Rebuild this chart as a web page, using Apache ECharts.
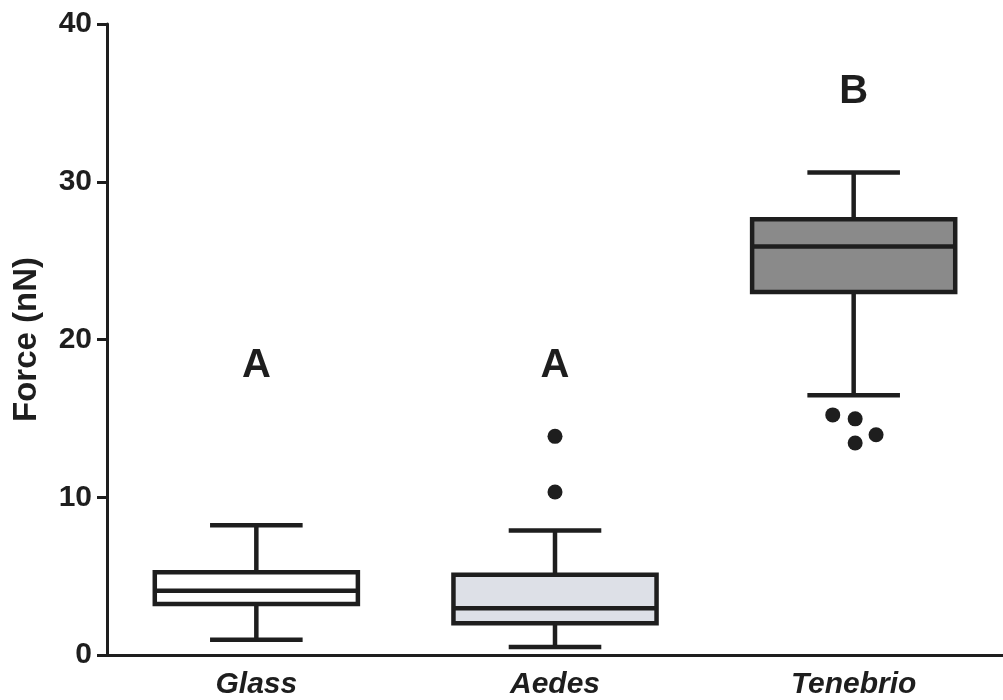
<!DOCTYPE html>
<html>
<head>
<meta charset="utf-8">
<script src="https://cdn.jsdelivr.net/npm/echarts@6/dist/echarts.min.js"></script>
<style>html,body{margin:0;padding:0;background:#fff}#c{width:1003px;height:700px}</style>
</head>
<body>
<div id="c"></div>
<script>
// ---- data ----
var categories = ['Glass', 'Aedes', 'Tenebrio'];
// [min, Q1, median, Q3, max]
var glassBox = [0.97, 3.24, 4.08, 5.25, 8.22];
var aedesBox = [0.5, 2.02, 2.97, 5.08, 7.89];
var tenebrioBox = [16.47, 23.01, 25.89, 27.63, 30.58];
var boxFills = ['#ffffff', '#dde0e7', '#8a8a8a'];
// outliers: [category index + horizontal jitter, value]
var outliers = [[1, 13.86], [1, 10.33], [1.93, 15.22], [2.005, 14.97], [2.075, 13.96], [2.005, 13.44]];
var groupLetters = ['A', 'A', 'B'];
var letterHeights = [18.3, 18.3, 35.7];
var yTicks = [0, 10, 20, 30, 40];

var boxes = [glassBox, aedesBox, tenebrioBox];
var boxData = boxes.map(function (b, i) { return [i].concat(b); });
var letterData = groupLetters.map(function (l, i) { return [i, letterHeights[i], l]; });

var INK = '#1e1e1e';
var FONT = '"Liberation Sans", Arial, sans-serif';

var chart = echarts.init(document.getElementById('c'), null, { renderer: 'canvas' });
chart.setOption({
  backgroundColor: '#ffffff',
  animation: false,
  grid: { left: 107, top: 24, width: 903, bottom: 42, containLabel: false },
  xAxis: [{
    type: 'category',
    data: categories,
    boundaryGap: true,
    axisLine: { onZero: false, lineStyle: { color: INK, width: 3 } },
    axisTick: { alignWithLabel: true, length: 11, lineStyle: { color: INK, width: 3 } },
    axisLabel: { color: INK, fontFamily: FONT, fontSize: 30, fontWeight: 'bold', fontStyle: 'italic', margin: 15 },
    splitLine: { show: false }
  }, {
    type: 'value', min: -0.5, max: 2.5, show: false, gridIndex: 0
  }],
  yAxis: {
    type: 'value', min: yTicks[0], max: yTicks[yTicks.length - 1], interval: 10,
    name: 'Force (nN)', nameLocation: 'middle', nameGap: 64,
    nameTextStyle: { color: INK, fontFamily: FONT, fontSize: 33, fontWeight: 'bold' },
    axisLine: { show: true, onZero: false, lineStyle: { color: INK, width: 3 } },
    axisTick: { show: true, length: 10, lineStyle: { color: INK, width: 3 } },
    axisLabel: { color: INK, fontFamily: FONT, fontSize: 30, fontWeight: 'bold', margin: 15 },
    splitLine: { show: false }
  },
  series: [{
    type: 'custom',
    xAxisIndex: 0,
    data: boxData,
    encode: { x: 0, y: [1, 2, 3, 4, 5] },
    renderItem: function (params, api) {
      var i = api.value(0);
      var band = api.size([1, 0])[0];
      var half = band * 0.34, capHalf = band * 0.155;
      var c = api.coord([i, api.value(1)])[0];
      var yMin = api.coord([i, api.value(1)])[1];
      var yQ1 = api.coord([i, api.value(2)])[1];
      var yMed = api.coord([i, api.value(3)])[1];
      var yQ3 = api.coord([i, api.value(4)])[1];
      var yMax = api.coord([i, api.value(5)])[1];
      var ls = { stroke: INK, lineWidth: 4.5, fill: null, lineCap: 'butt' };
      return {
        type: 'group',
        children: [
          { type: 'line', shape: { x1: c, y1: yMax, x2: c, y2: yQ3 }, style: ls },
          { type: 'line', shape: { x1: c, y1: yQ1, x2: c, y2: yMin }, style: ls },
          { type: 'line', shape: { x1: c - capHalf, y1: yMax, x2: c + capHalf, y2: yMax }, style: ls },
          { type: 'line', shape: { x1: c - capHalf, y1: yMin, x2: c + capHalf, y2: yMin }, style: ls },
          { type: 'rect', shape: { x: c - half, y: yQ3, width: half * 2, height: yQ1 - yQ3 },
            style: { fill: boxFills[i], stroke: INK, lineWidth: 4.5 } },
          { type: 'line', shape: { x1: c - half, y1: yMed, x2: c + half, y2: yMed }, style: ls }
        ]
      };
    }
  }, {
    type: 'scatter',
    xAxisIndex: 1,
    data: outliers,
    symbol: 'circle',
    symbolSize: 15,
    itemStyle: { color: INK, opacity: 1 },
    z: 5
  }, {
    type: 'scatter',
    xAxisIndex: 1,
    data: letterData,
    symbolSize: 0,
    itemStyle: { opacity: 1 },
    label: {
      show: true, position: 'inside',
      formatter: function (p) { return p.data[2]; },
      color: INK, opacity: 1, fontFamily: FONT, fontSize: 40, fontWeight: 'bold'
    }
  }]
});
</script>
</body>
</html>
